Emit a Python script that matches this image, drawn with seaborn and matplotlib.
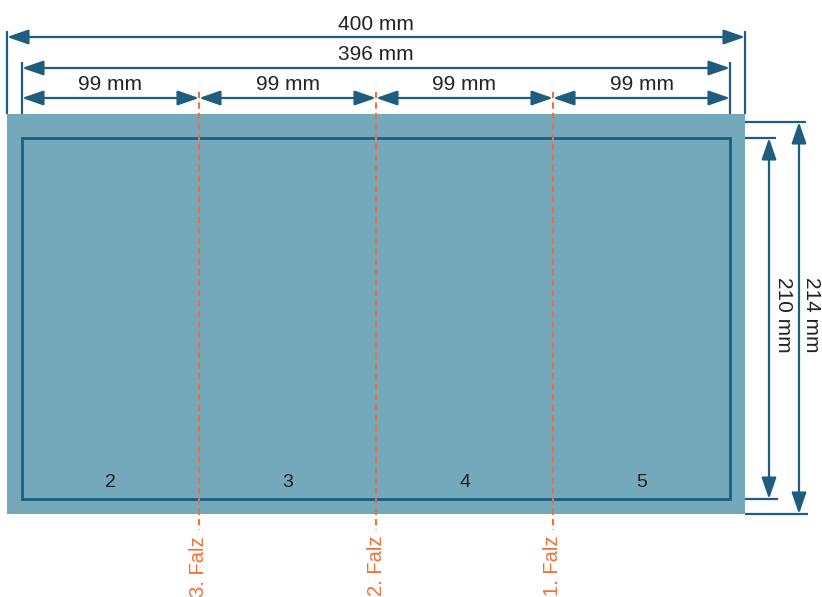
import numpy as np
import seaborn as sns
import matplotlib.pyplot as plt
from matplotlib.patches import Rectangle, FancyArrowPatch

# sheet / trim sizes in mm
sheet_w, sheet_h = 400, 214
trim_w, trim_h = 396, 210
panel_w = [99, 99, 99, 99]
panel_labels = ['2', '3', '4', '5']
fold_labels = ['3. Falz', '2. Falz', '1. Falz']

DARK = '#1e5d7e'
FILL = '#74a9bc'
ORANGE = '#f0703a'
TEXT = '#222222'

# canvas scale (px per mm) and position of the trim corner; bleed is drawn exaggerated
SX, SY = 708 / trim_w, 361 / trim_h
OX, OY = 22, 138
W, H = 822, 597


def mx(p):
    return (p - OX) / SX


def my(p):
    return (p - OY) / SY


def dim_arrow(ax, p0, p1):
    ax.add_patch(FancyArrowPatch(p0, p1, arrowstyle='<|-|>,head_length=13,head_width=4.5',
                                 mutation_scale=1, shrinkA=0, shrinkB=0,
                                 color=DARK, lw=1.6, zorder=3))


def line(ax, xs, ys):
    ax.plot(xs, ys, color=DARK, lw=1.6, solid_capstyle='butt', zorder=3)


sns.set_theme(style='white')
plt.rcParams['font.family'] = ['Liberation Sans', 'DejaVu Sans']

fig = plt.figure(figsize=(W / 100, H / 100), dpi=100)
ax = fig.add_axes([0, 0, 1, 1])
ax.set_xlim(mx(0), mx(W))
ax.set_ylim(my(H), my(0))
ax.axis('off')

# sheet with bleed (drawn wider than scale)
bl, br, bt, bb = mx(7), mx(745) - trim_w, my(114), my(514) - trim_h
left, right, top, bottom = bl, trim_w + br, bt, trim_h + bb
ax.add_patch(Rectangle((left, top), right - left, bottom - top, facecolor=FILL,
                       edgecolor='none', zorder=1))
ax.add_patch(Rectangle((0, 0), trim_w, trim_h, facecolor='none', edgecolor=DARK,
                       lw=2.0, zorder=2))

# top dimensions
y400, y396, y99 = my(37), my(68), my(98)
dim_arrow(ax, (left, y400), (right, y400))
line(ax, [left, left], [my(31), top])
line(ax, [right, right], [my(31), top])
ax.text((left + right) / 2, my(24), f'{sheet_w} mm', ha='center', va='center',
        fontsize=15, color=TEXT)

dim_arrow(ax, (0, y396), (trim_w, y396))
line(ax, [0, 0], [my(62), top])
line(ax, [trim_w, trim_w], [my(62), top])
ax.text(trim_w / 2, my(54.5), f'{trim_w} mm', ha='center', va='center',
        fontsize=15, color=TEXT)

edges = np.concatenate([[0], np.cumsum(panel_w)])
for i, w in enumerate(panel_w):
    dim_arrow(ax, (edges[i], y99), (edges[i + 1], y99))
    ax.text((edges[i] + edges[i + 1]) / 2, my(85), f'{w} mm', ha='center',
            va='center', fontsize=15, color=TEXT)
    ax.text((edges[i] + edges[i + 1]) / 2, my(482), panel_labels[i], ha='center',
            va='center', fontsize=14, color=TEXT)

# folds
for x, lab in zip(edges[1:-1], fold_labels):
    ax.plot([x, x], [my(92), my(530)], color=ORANGE, lw=1.5,
            linestyle=(0, (3, 2)), zorder=4)
    ax.text(x, my(536), lab, rotation=90, ha='center', va='top', fontsize=14.5,
            color=ORANGE)

# right-side dimensions
x210, x214 = mx(769), mx(799)
line(ax, [right, mx(776)], [0, 0])
line(ax, [right, mx(778)], [trim_h, trim_h])
dim_arrow(ax, (x210, 0), (x210, trim_h))
ax.text(mx(783), my(315), f'{trim_h} mm', rotation=-90, ha='center', va='center',
        fontsize=15, color=TEXT)

y_top214 = my(122)
line(ax, [right, mx(806)], [y_top214, y_top214])
line(ax, [right, mx(808)], [bottom, bottom])
dim_arrow(ax, (x214, y_top214), (x214, bottom))
ax.text(mx(812), my(315), f'{sheet_h} mm', rotation=-90, ha='center', va='center',
        fontsize=15, color=TEXT)

fig.savefig('out.png', dpi=100)
